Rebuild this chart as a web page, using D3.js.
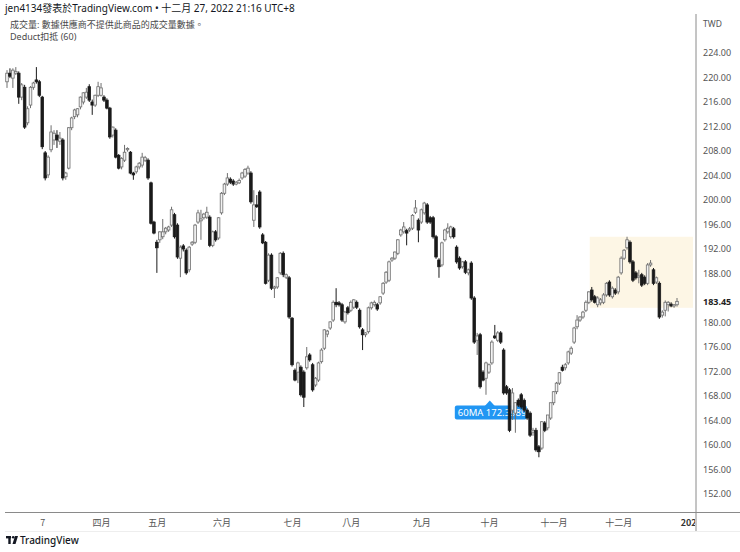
<!DOCTYPE html>
<html>
<head>
<meta charset="utf-8">
<script src="https://cdn.jsdelivr.net/npm/d3@7/dist/d3.min.js"></script>
<style>
html,body{margin:0;padding:0;background:#fff;}
svg{display:block;font-family:"Noto Sans","Noto Sans CJK TC",sans-serif;}
</style>
</head>
<body>
<svg id="chart" width="740" height="552"></svg>
<script>
// ---- data: daily candles [open, high, low, close] (TWD) ----
const candles = [
[219.3,221.2,218.3,220.7],[220.7,221.5,219.9,220.2],[219.9,221.5,218.3,221.2],[220.7,221.7,220.4,221.0],
[220.7,221.0,215.7,216.8],[216.8,219.1,216.3,218.8],[218.4,218.8,211.6,211.9],[212.6,215.3,212.2,214.9],
[215.5,218.6,215.0,218.4],[218.4,219.3,218.0,219.1],[219.6,221.7,219.0,219.3],[219.3,219.6,216.8,217.1],
[216.8,217.0,208.3,208.7],[207.7,208.0,203.2,203.6],[204.1,207.3,203.6,207.0],[208.2,212.2,207.8,211.1],
[209.8,211.4,209.0,210.9],[210.6,211.4,208.5,209.8],[209.6,211.1,209.0,210.1],[209.8,210.1,203.2,203.6],
[203.8,204.6,203.3,204.4],[205.2,211.9,205.0,211.8],[211.8,213.6,211.4,213.4],[213.6,214.9,213.2,214.7],
[213.9,215.0,213.5,214.9],[215.2,216.9,214.8,216.8],[216.0,217.6,215.6,217.5],[216.8,218.3,216.5,217.6],
[218.5,218.9,216.0,216.3],[216.0,216.4,213.9,215.5],[215.5,217.2,215.2,217.1],[217.1,219.3,216.8,218.5],
[217.1,219.1,216.9,218.3],[216.8,217.1,216.0,216.3],[216.3,216.6,214.8,215.0],[215.0,215.2,210.0,210.3],
[210.6,212.0,210.2,211.9],[211.4,211.7,206.8,207.0],[207.3,207.5,205.0,205.2],[205.4,207.0,205.0,206.8],
[206.5,209.0,206.2,207.8],[208.2,208.6,207.9,208.4],[207.8,208.0,204.2,204.4],[204.4,204.6,203.3,204.1],
[204.6,205.6,204.3,205.4],[205.4,206.2,205.0,206.0],[205.7,207.7,205.3,207.0],[206.5,207.2,206.2,206.9],
[206.5,206.8,203.3,203.6],[202.8,203.0,196.0,196.2],[196.4,196.6,194.4,194.6],[193.1,193.5,188.1,192.2],
[193.5,194.9,193.0,194.8],[194.0,196.9,193.6,194.8],[194.8,195.6,194.4,195.4],[195.1,195.8,194.8,195.6],
[195.9,198.9,195.6,198.4],[197.6,197.9,193.7,194.0],[195.9,196.2,190.4,190.7],[190.5,192.6,187.4,192.3],
[192.5,192.8,191.6,192.0],[191.8,192.1,187.8,188.1],[188.6,192.5,188.2,192.3],[192.8,193.3,192.5,193.1],
[193.1,196.1,192.8,195.9],[196.4,198.4,196.1,197.9],[196.6,198.4,193.5,196.9],[197.1,197.9,196.8,197.7],
[197.2,198.9,196.9,198.0],[197.2,197.5,192.3,192.6],[192.6,195.0,192.3,194.8],[194.8,195.1,193.2,193.5],
[193.8,197.2,193.5,197.1],[197.9,201.3,197.6,201.1],[201.1,202.8,200.8,202.6],[202.6,204.4,202.3,203.6],
[203.4,203.7,202.6,202.9],[203.1,203.4,202.3,202.6],[202.6,203.1,202.4,202.9],[202.8,203.5,202.6,203.2],
[203.6,204.6,203.3,204.4],[203.9,205.2,203.6,205.0],[204.4,205.6,204.1,205.2],[204.4,204.7,199.4,199.7],
[196.7,201.6,195.6,199.2],[199.2,200.8,198.7,198.9],[201.3,201.6,195.3,195.6],[194.3,194.6,192.8,193.0],
[193.1,193.3,186.2,186.4],[186.9,191.3,186.6,191.0],[191.0,191.3,185.3,185.6],[185.6,186.0,184.0,185.8],
[185.8,187.4,185.5,187.3],[188.1,191.5,187.8,191.3],[191.3,191.6,187.4,187.8],[187.4,188.0,187.1,187.8],
[187.3,187.6,180.6,180.9],[180.7,180.9,172.8,173.1],[172.2,172.5,170.4,170.6],[171.9,173.6,170.1,173.4],
[172.7,173.0,167.9,168.2],[171.9,172.2,166.2,167.8],[172.6,176.0,172.3,174.4],[174.7,175.0,173.6,173.9],
[173.1,173.4,168.7,169.0],[169.8,171.1,169.5,170.9],[170.6,173.6,170.3,173.4],[173.6,175.8,173.3,175.5],
[175.8,178.9,175.5,178.8],[178.1,178.8,177.6,178.6],[179.1,180.2,178.8,180.1],[180.4,183.6,180.1,183.3],
[183.3,185.6,182.5,182.9],[183.2,183.5,182.6,182.9],[182.9,183.2,180.1,180.4],[180.1,181.9,179.8,181.7],
[182.4,182.7,181.3,181.6],[182.0,183.6,181.7,183.3],[182.5,183.8,182.2,183.7],[183.3,183.6,182.2,182.5],
[182.0,182.3,179.0,179.3],[178.8,179.1,175.5,178.0],[178.0,178.4,177.6,178.3],[178.5,182.6,178.2,182.4],
[182.4,183.4,182.1,183.2],[182.9,183.6,182.6,183.3],[182.9,183.2,181.9,182.2],[183.2,184.3,182.9,184.2],
[184.8,186.6,184.5,186.4],[186.6,188.4,186.3,188.2],[186.9,190.1,186.6,189.9],[190.2,190.7,189.9,190.5],
[190.5,191.6,190.2,191.5],[191.3,193.6,191.0,193.5],[194.3,195.3,194.0,195.1],[194.8,196.4,194.5,195.6],
[195.0,195.3,192.6,194.6],[195.1,195.6,194.8,195.3],[195.4,197.7,195.1,197.5],[198.0,200.0,197.7,198.7],
[196.7,197.0,193.1,195.1],[196.4,198.6,196.1,198.4],[197.9,199.7,197.6,199.5],[199.2,199.5,196.1,196.4],
[197.1,197.4,196.1,196.4],[197.1,197.4,193.7,194.0],[194.0,194.3,190.4,190.7],[190.2,190.5,187.3,189.1],
[189.4,193.2,189.1,193.0],[193.5,195.3,193.2,195.1],[194.8,196.2,194.5,195.4],[194.0,195.8,193.7,195.6],
[195.3,195.6,193.7,194.0],[192.3,192.6,189.6,189.9],[190.5,190.8,188.6,188.9],[189.1,190.0,188.8,189.9],
[189.9,190.2,187.9,188.2],[188.1,188.8,187.7,188.6],[189.7,190.0,183.7,184.0],[184.0,184.3,176.5,176.8],
[177.1,178.3,174.7,177.8],[178.0,178.3,169.2,169.5],[171.9,172.2,170.4,170.6],[170.9,173.6,168.2,173.4],
[171.9,173.3,171.6,173.1],[173.4,177.1,173.1,176.8],[177.8,179.6,177.3,177.5],[177.1,178.6,176.8,178.3],
[178.3,178.6,176.5,176.8],[175.5,175.8,168.2,168.5],[169.5,169.8,168.2,168.5],[169.0,169.3,162.1,162.4],
[165.7,169.3,164.1,168.5],[165.2,167.0,162.0,166.9],[167.3,167.6,166.2,166.5],[168.2,168.5,165.9,166.2],
[167.3,167.6,165.4,165.7],[165.7,166.0,164.1,164.4],[165.2,165.5,161.3,161.6],[162.1,162.8,161.5,162.4],
[162.4,162.8,158.9,159.2],[159.7,160.0,158.0,158.9],[159.5,163.9,159.2,163.8],[163.6,163.9,162.1,162.4],
[162.8,164.9,162.4,164.9],[164.4,166.9,164.1,166.9],[166.9,168.8,166.5,168.7],[168.7,170.3,168.3,170.1],
[170.1,171.9,169.8,171.8],[172.7,173.1,172.0,172.2],[172.6,173.4,172.2,173.1],[173.4,175.4,173.1,175.2],
[175.0,176.1,174.7,175.8],[176.8,179.3,176.5,179.1],[179.3,181.2,178.9,180.4],[180.4,181.0,180.1,180.9],
[180.9,181.9,180.6,181.7],[182.0,183.6,181.7,183.3],[183.3,185.1,183.0,185.0],[185.3,185.8,183.4,183.7],
[184.2,184.5,183.1,183.3],[182.9,184.3,182.5,184.0],[183.2,184.0,182.8,183.7],[183.3,184.8,183.0,184.5],
[184.5,186.6,184.2,186.4],[186.6,186.9,184.2,184.5],[184.2,185.9,183.9,185.6],[185.3,185.6,184.5,184.8],
[185.0,187.6,184.6,187.4],[188.1,190.8,187.8,190.5],[190.5,192.0,190.2,191.8],[192.2,194.0,191.9,193.5],
[193.1,193.4,189.6,189.9],[189.9,190.2,186.6,186.9],[188.1,188.4,187.0,187.3],[187.4,188.6,186.4,187.6],
[187.8,188.1,185.8,186.1],[187.4,187.7,186.1,186.4],[186.4,189.7,186.1,189.4],[189.4,190.2,189.1,189.7],
[188.6,188.9,186.1,186.4],[186.6,187.5,186.3,187.3],[186.4,186.7,180.6,180.9],[181.2,182.0,180.8,181.7],
[182.0,183.6,181.0,183.3],[182.9,183.5,181.8,183.3],[183.0,183.3,182.5,182.7],[182.7,183.0,182.4,182.9],
[182.9,184.0,182.6,183.45]
];
const monthLabels = ["7","四月","五月","六月","七月","八月","九月","十月","十一月","十二月","2023"];
const monthIndex  = [12, 32, 51, 73, 97, 117, 141, 164, 186, 208, 232.7];
const priceTicks = d3.range(152, 225, 4);
const lastPrice = 183.45;
const boxStartIndex = 198.3, boxTop = 194.0, boxBottom = 182.4;
const maLabel = "60MA 172.39899";
const maAnchorIndex = 164.3, maAnchorPrice = 167.6;

// ---- layout ----
const svg = d3.select("#chart");
const axisX = 696;
const x = d3.scaleLinear().domain([0, candles.length - 1]).range([7, 677]);
const y = d3.scaleLinear().domain([152, 224]).range([494, 53]);

svg.append("rect").attr("width", 740).attr("height", 552).attr("fill", "#fff");

// header texts
svg.append("text").attr("x", 5).attr("y", 12).attr("font-size", 10).attr("fill", "#131722")
  .text("jen4134發表於TradingView.com • 十二月 27, 2022 21:16 UTC+8");
svg.append("text").attr("x", 10).attr("y", 28).attr("font-size", 9).attr("fill", "#4a4a4a")
  .text("成交量: 數據供應商不提供此商品的成交量數據。");
svg.append("text").attr("x", 10).attr("y", 40).attr("font-size", 9).attr("fill", "#4a4a4a")
  .text("Deduct扣抵 (60)");

// shaded box
svg.append("rect")
  .attr("x", x(boxStartIndex)).attr("y", y(boxTop))
  .attr("width", axisX - 3 - x(boxStartIndex)).attr("height", y(boxBottom) - y(boxTop))
  .attr("fill", "#fdf6e5");

// 60MA label
const lx = x(maAnchorIndex), ly = y(maAnchorPrice);
const lg = svg.append("g");
lg.append("rect").attr("x", lx - 35).attr("y", ly + 7).attr("width", 72).attr("height", 14)
  .attr("rx", 2).attr("fill", "#2196f3");
lg.append("path").attr("d", `M${lx - 5},${ly + 7.5} L${lx},${ly + 2} L${lx + 5},${ly + 7.5} Z`).attr("fill", "#2196f3");
lg.append("text").attr("x", lx - 32).attr("y", ly + 17.5).attr("font-size", 9.5).attr("fill", "#fff")
  .text(maLabel);

// candles
const bw = 2.6;
const cg = svg.append("g");
candles.forEach((c, i) => {
  const [o, h, l, cl] = c;
  const up = cl >= o;
  const cx = x(i);
  const col = up ? "#6f6f6f" : "#1a1a1a";
  cg.append("line").attr("x1", cx).attr("x2", cx)
    .attr("y1", y(Math.max(h, o, cl))).attr("y2", y(Math.min(l, o, cl)))
    .attr("stroke", col).attr("stroke-width", 1);
  const top = y(Math.max(o, cl)), bot = y(Math.min(o, cl));
  cg.append("rect").attr("x", cx - bw / 2).attr("y", top)
    .attr("width", bw).attr("height", Math.max(0.8, bot - top))
    .attr("fill", up ? "#f2f2f2" : "#1a1a1a")
    .attr("stroke", col).attr("stroke-width", 0.8);
});

// right axis
svg.append("line").attr("x1", axisX).attr("x2", axisX).attr("y1", 14).attr("y2", 531)
  .attr("stroke", "#8a8a8a").attr("stroke-width", 1);
const shownTicks = priceTicks.filter(v => Math.abs(y(v) - y(lastPrice)) > 10);
const ya = svg.append("g").attr("transform", `translate(${axisX},0)`)
  .call(d3.axisRight(y).tickValues(shownTicks).tickFormat(d3.format(".2f")).tickSize(0).tickPadding(7));
ya.select(".domain").remove();
ya.selectAll("text").attr("font-size", 9).attr("fill", "#555").attr("font-family", "Noto Sans, sans-serif");
svg.append("text").attr("x", 703).attr("y", 27).attr("font-size", 8.5).attr("fill", "#555").text("TWD");

// last price tag
svg.append("text").attr("x", axisX + 7).attr("y", y(lastPrice) + 3.5).attr("font-size", 9)
  .attr("font-weight", "bold").attr("fill", "#222").text(d3.format(".2f")(lastPrice));

// bottom axis
svg.append("line").attr("x1", 5).attr("x2", 740).attr("y1", 512.5).attr("y2", 512.5)
  .attr("stroke", "#8a8a8a").attr("stroke-width", 1);
svg.append("line").attr("x1", 5).attr("x2", 740).attr("y1", 531.5).attr("y2", 531.5)
  .attr("stroke", "#eee").attr("stroke-width", 1);
svg.append("clipPath").attr("id", "xclip").append("rect")
  .attr("x", 0).attr("y", 500).attr("width", axisX - 1).attr("height", 40);
const xaWrap = svg.append("g").attr("clip-path", "url(#xclip)");
const xa = xaWrap.append("g").attr("transform", "translate(0,512)")
  .call(d3.axisBottom(x).tickValues(monthIndex).tickFormat((d, i) => monthLabels[i]).tickSize(0).tickPadding(8));
xa.select(".domain").remove();
xa.selectAll("text").attr("font-size", 9).attr("fill", "#555").attr("font-family", "Noto Sans CJK TC, sans-serif");
xa.selectAll("text").filter((d, i) => i === monthLabels.length - 1).attr("font-weight", "bold").attr("fill", "#333");

// TradingView logo
const logo = svg.append("g").attr("transform", "translate(6,536)").attr("fill", "#131722");
logo.append("rect").attr("x", 0).attr("y", 0).attr("width", 5).attr("height", 2.4);
logo.append("rect").attr("x", 2.3).attr("y", 0).attr("width", 2.4).attr("height", 8);
logo.append("circle").attr("cx", 7.2).attr("cy", 1.3).attr("r", 1.3);
logo.append("path").attr("d", "M9,0 L12,0 L9.5,8 L6.5,8 Z");
svg.append("text").attr("x", 20).attr("y", 544).attr("font-size", 10).attr("font-weight", "500")
  .attr("fill", "#131722").text("TradingView");
</script>
</body>
</html>
